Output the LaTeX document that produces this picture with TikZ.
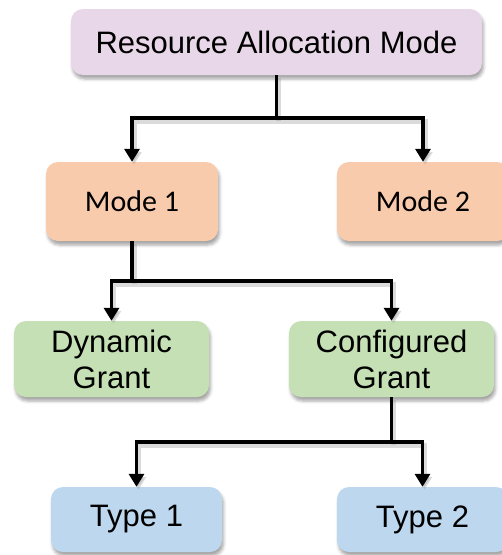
\documentclass[tikz,border=0pt]{standalone}
\usepackage{fontspec}
\setmainfont{Liberation Sans}
\newfontfamily\calfont{Carlito}
\usetikzlibrary{arrows.meta,shadows.blur}
\definecolor{purp}{HTML}{E8D7E8}
\definecolor{oran}{HTML}{F8CBAD}
\definecolor{gren}{HTML}{C5E0B4}
\definecolor{blu}{HTML}{BDD7EE}
\tikzset{
  box/.style={rounded corners=12pt, inner sep=0pt, align=center,
    font=\fontsize{31}{36}\selectfont,
    blur shadow={shadow xshift=1.5pt, shadow yshift=-4pt, shadow blur radius=3pt, shadow opacity=35}},
  calbox/.style={box, font=\calfont\fontsize{30}{36}\selectfont},
  conn/.style={line width=3.6pt, draw=black,
    preaction={draw=black!40, opacity=0.35, line width=5pt, transform canvas={xshift=2pt, yshift=-3pt}}},
  arr/.style={conn, -{Triangle[width=15pt,length=13pt]}}
}
\begin{document}
\begin{tikzpicture}[x=1pt,y=-1pt]
\useasboundingbox (0,0) rectangle (502,555);
\node[box, fill=purp, minimum width=411pt, minimum height=66pt] (top) at (276.5,42) {Resource Allocation Mode};
\node[calbox, fill=oran, minimum width=172pt, minimum height=79pt] (m1) at (132,201.5) {Mode 1};
\node[calbox, fill=oran, minimum width=172pt, minimum height=79pt] (m2) at (423,201.5) {Mode 2};
\node[box, fill=gren, minimum width=195pt, minimum height=76pt] (dg) at (111.5,359) {Dynamic\\Grant};
\node[box, fill=gren, minimum width=205pt, minimum height=76pt] (cg) at (391.5,359) {Configured\\Grant};
\node[box, fill=blu, minimum width=171pt, minimum height=65pt] (t1) at (136.5,519.5) {Type 1};
\node[box, fill=blu, minimum width=171pt, minimum height=65pt] (t2) at (422.5,519.5) {Type 2};
\coordinate (j1) at (276.5,118);
\coordinate (j2) at (132,281);
\coordinate (j3) at (391.5,442);
\draw[conn] (top.south) -- (j1);
\draw[arr] (j1) -| (m1.north);
\draw[arr] (j1) -| (m2.north);
\draw[conn] (m1.south) -- (j2);
\draw[arr] (j2) -| (dg.north);
\draw[arr] (j2) -| (cg.north);
\draw[conn] (cg.south) -- (j3);
\draw[arr] (j3) -| (t1.north);
\draw[arr] (j3) -| (t2.north);
\end{tikzpicture}
\end{document}
